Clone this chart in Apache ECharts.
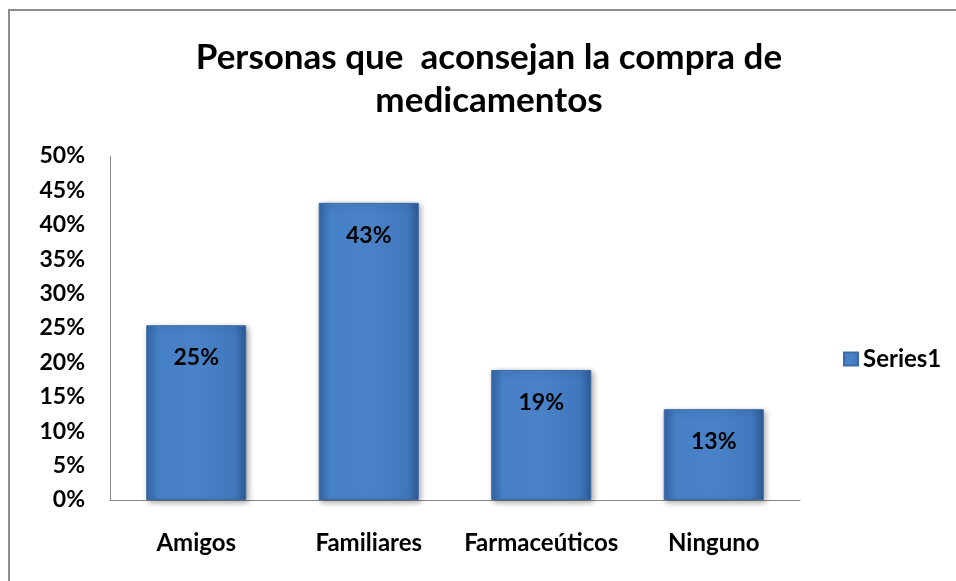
<!DOCTYPE html>
<html><head><meta charset="utf-8">
<script src="https://cdn.jsdelivr.net/npm/echarts@6/dist/echarts.min.js"></script>
<style>html,body{margin:0;padding:0;background:#fff}#c{width:956px;height:581px}</style>
</head><body><div id="c"></div>
<script>
const titleText = 'Personas que  aconsejan la compra de\nmedicamentos';
const categories = ['Amigos', 'Familiares', 'Farmaceúticos', 'Ninguno'];
const values = [0.254, 0.432, 0.189, 0.132];
const seriesName = 'Series1';
const yTicks = [0, 0.05, 0.1, 0.15, 0.2, 0.25, 0.3, 0.35, 0.4, 0.45, 0.5];

const FONT = 'Lato';
const chart = echarts.init(document.getElementById('c'), null, {renderer: 'canvas'});
const barColor = new echarts.graphic.LinearGradient(0, 0, 1, 0, [
  {offset: 0, color: '#3567a8'},
  {offset: 0.12, color: '#4680c6'},
  {offset: 0.5, color: '#4a82c8'},
  {offset: 0.88, color: '#4178bd'},
  {offset: 1, color: '#2e5b95'}
]);
chart.setOption({
  animation: false,
  graphic: [{
    type: 'rect', shape: {x: 9, y: 10, width: 1000, height: 700},
    style: {fill: 'none', stroke: '#8c8c8c', lineWidth: 2}, silent: true, z: -1
  }],
  title: {
    text: titleText, left: 484, top: 31, textAlign: 'center',
    textStyle: {fontFamily: FONT, fontWeight: 'bold', fontSize: 35, color: '#000', lineHeight: 43}
  },
  legend: {
    data: [seriesName], left: 838, top: 342, orient: 'vertical',
    itemWidth: 14, itemHeight: 13, icon: 'rect', itemGap: 4,
    textStyle: {fontFamily: FONT, fontWeight: 'bold', fontSize: 24, color: '#000'}
  },
  grid: {left: 110, top: 156, width: 690, height: 344, containLabel: false},
  xAxis: {
    type: 'category', data: categories,
    axisLine: {lineStyle: {color: '#888', width: 1}},
    axisTick: {show: false},
    axisLabel: {interval: 0, hideOverlap: false, margin: 31, fontFamily: FONT, fontWeight: 'bold', fontSize: 24, color: '#000'}
  },
  yAxis: {
    type: 'value', min: 0, max: 0.5, interval: 0.05,
    axisLine: {show: true, lineStyle: {color: '#888', width: 1}},
    axisTick: {show: false},
    splitLine: {show: false},
    axisLabel: {
      margin: 25, fontFamily: FONT, fontWeight: 'bold', fontSize: 23, color: '#000',
      formatter: v => Math.round(v * 100) + '%'
    }
  },
  series: [{
    name: seriesName, type: 'bar', data: values, barWidth: '58%',
    itemStyle: {
      color: barColor, borderColor: '#3a6aa6', borderWidth: 1,
      shadowColor: 'rgba(0,0,0,0.35)', shadowBlur: 6, shadowOffsetX: 2, shadowOffsetY: 2
    },
    label: {
      show: true, position: 'insideTop', distance: 21,
      fontFamily: FONT, fontWeight: 'bold', fontSize: 23, color: '#000',
      formatter: p => Math.round(p.value * 100) + '%'
    }
  }]
});
</script></body></html>
